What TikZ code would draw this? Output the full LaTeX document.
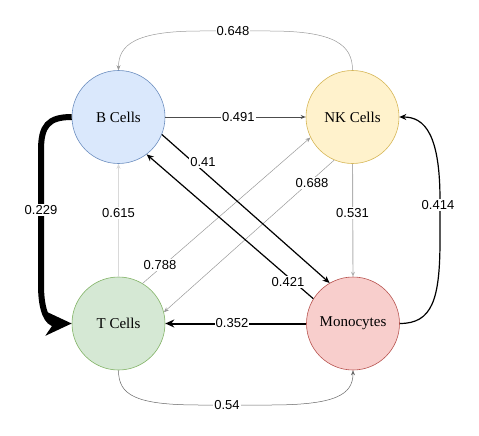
\documentclass[tikz,border=0pt]{standalone}
\usepackage{fontspec}
\setmainfont{Liberation Serif}
\newfontfamily\lblfont{Liberation Sans}
\usetikzlibrary{arrows.meta}
\definecolor{bfill}{HTML}{DAE8FC}\definecolor{bline}{HTML}{6C8EBF}
\definecolor{nfill}{HTML}{FFF2CC}\definecolor{nline}{HTML}{D6B656}
\definecolor{tfill}{HTML}{D5E8D4}\definecolor{tline}{HTML}{82B366}
\definecolor{mfill}{HTML}{F8CECC}\definecolor{mline}{HTML}{B85450}
\tikzset{
  cell/.style={circle, draw, line width=0.6pt, minimum size=93pt, inner sep=0pt, font=\fontsize{15}{17}\selectfont},
  lbl/.style={fill=white, inner sep=1pt, font=\lblfont\fontsize{13}{15}\selectfont},
  thin/.style={-{Stealth[length=5pt,width=4pt]}, line width=0.5pt},
  mid/.style={-{Stealth[length=7pt,width=6pt]}, line width=1.2pt, black},
}
\begin{document}
\begin{tikzpicture}[x=1pt,y=-1pt]
\useasboundingbox (0,0) rectangle (479,436);
\node[cell, fill=bfill, draw=bline] (bc) at (118.5,117) {B Cells};
\node[cell, fill=nfill, draw=nline] (nk) at (352.5,117) {NK Cells};
\node[cell, fill=tfill, draw=tline] (tc) at (118.5,323.5) {T Cells};
\node[cell, fill=mfill, draw=mline] (mc) at (353,323.5) {Monocytes};
% NK -> B (top arc)
\draw[thin, draw=black!40] (nk.north) .. controls (352.5,45) and (335,31) .. (270,31) -- (200,31)
   .. controls (135,31) and (118.5,45) .. (bc.north);
\node[lbl] (l648) at (233,31) {0.648};
% B -> NK
\draw[thin, line width=0.9pt, draw=black!70] (bc.east) -- (nk.west) node[lbl, pos=0.52] (l491) {0.491};
% B -> T thick
\draw[-{Stealth[length=26pt,width=24pt,inset=8pt]}, line width=6pt, black]
   (bc.west) .. controls (48,117) and (41,126) .. (41,150) -- (41,285)
   .. controls (41,312) and (48,323.5) .. (tc.west);
\node[lbl] (l229) at (41,210) {0.229};
% T -> B
\draw[thin, line width=1.3pt, draw=black!15] (tc.north) -- (bc.south);
\node[lbl] (l615) at (118.5,213) {0.615};
% T -> NK
\draw[thin, draw=black!40] (tc.59) -- (nk.206);
\node[lbl] (l788) at (160,265) {0.788};
% NK -> T
\draw[thin, draw=black!40] (nk.247) -- (tc.14);
\node[lbl] (l688) at (312,183) {0.688};
% B -> Mono
\draw[mid] (bc.-22) -- (mc.120);
\node[lbl] (l41) at (203,162) {0.41};
% Mono -> B
\draw[mid] (mc.148) -- (bc.-53);
\node[lbl] (l421) at (288,282) {0.421};
% NK -> Mono
\draw[thin, line width=0.9pt, draw=black!30] (nk.south) -- (mc.north);
\node[lbl] (l531) at (352.5,213) {0.531};
% Mono -> NK
\draw[mid] (mc.east) .. controls (432,323.5) and (440,300) .. (440,240) -- (440,200)
   .. controls (440,135) and (425,117) .. (nk.east);
\node[lbl] (l414) at (438,205) {0.414};
% Mono -> T
\draw[-{Stealth[length=9pt,width=8pt]}, line width=2pt, black] (mc.west) -- (tc.east);
\node[lbl] (l352) at (232,323.5) {0.352};
% T -> Mono (bottom arc)
\draw[thin, draw=black!60] (tc.south) .. controls (118.5,395) and (135,405) .. (200,405) -- (270,405)
   .. controls (335,405) and (353,395) .. (mc.south);
\node[lbl] (l54) at (227,405) {0.54};
\end{tikzpicture}
\end{document}
